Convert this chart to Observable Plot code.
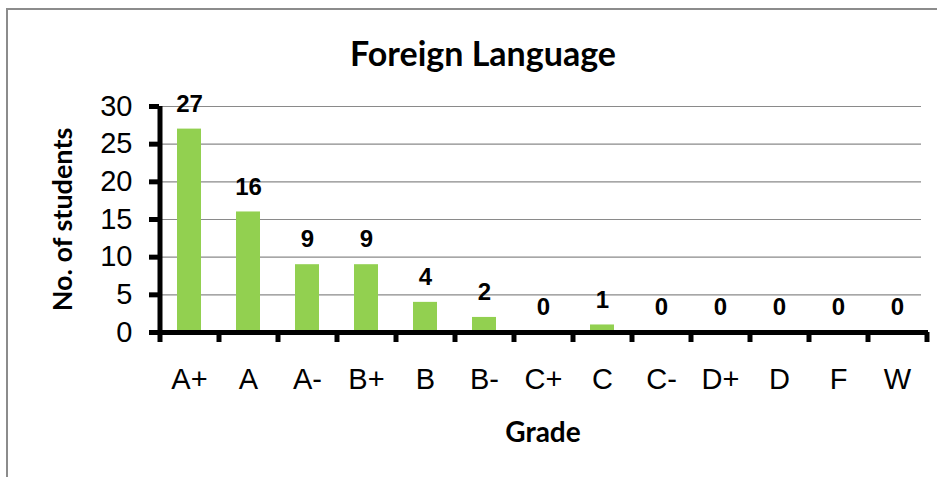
<!DOCTYPE html>
<html>
<head>
<meta charset="utf-8">
<script src="https://cdn.jsdelivr.net/npm/d3@7"></script>
<script src="https://cdn.jsdelivr.net/npm/@observablehq/plot@0.6"></script>
<style>
  html, body { margin: 0; padding: 0; background: #fff; }
  #wrap { position: relative; width: 937px; height: 477px; overflow: hidden; }
  #border { position: absolute; left: 6px; top: 8px; width: 1000px; height: 600px;
            border-left: 2px solid #8c8c8c; border-top: 2px solid #8c8c8c; }
  #chart { position: absolute; left: 0; top: 0; }
</style>
</head>
<body>
<div id="wrap"><div id="border"></div><div id="chart"></div></div>
<script>
const grades = ["A+", "A", "A-", "B+", "B", "B-", "C+", "C", "C-", "D+", "D", "F", "W"];
const counts = [27, 16, 9, 9, 4, 2, 0, 1, 0, 0, 0, 0, 0];
const yTicks = [0, 5, 10, 15, 20, 25, 30];
const gridValues = [5, 10, 15, 20, 25, 30];
const title = "Foreign Language";
const xTitle = "Grade";
const yTitle = "No. of students";

const data = grades.map((g, i) => ({grade: g, count: counts[i]}));

const W = 937, H = 477, ML = 159, MR = 11, MT = 106, MB = 145;
const step = (W - ML - MR) / grades.length;
const sans = "'Liberation Sans', Arial, sans-serif";
const calib = "Lato, 'Open Sans', sans-serif";

const plot = Plot.plot({
  width: W, height: H,
  marginLeft: ML, marginRight: MR, marginTop: MT, marginBottom: MB,
  style: {fontFamily: sans, background: "transparent", overflow: "visible"},
  x: {domain: grades, paddingInner: 0.6, paddingOuter: 0.3},
  y: {domain: [0, 30]},
  marks: [
    Plot.ruleY(gridValues, {stroke: "#8a8a8a", strokeWidth: 1.2, insetRight: 5}),
    Plot.barY(data, {x: "grade", y: "count", fill: "#92d050"}),
    Plot.axisY({ticks: yTicks, tickSize: 10, tickPadding: 17, fontSize: 29, strokeWidth: 5, stroke: "#000", label: null, fill: "#000"}),
    Plot.axisX({tickSize: 0, tickPadding: 36, fontSize: 29, label: null, fill: "#000"}),
    Plot.ruleX([grades[0]], {dx: -step / 2, y1: 0, y2: 30, strokeWidth: 5, stroke: "#000", insetTop: -2}),
    Plot.ruleY([0], {strokeWidth: 5, stroke: "#000", insetLeft: -2, insetRight: -2}),
    Plot.ruleX(grades, {x: d => d, dx: -step / 2, y1: 0, y2: 0, insetBottom: -10, strokeWidth: 5, stroke: "#000"}),
    Plot.ruleX([grades[grades.length - 1]], {dx: step / 2, y1: 0, y2: 0, insetBottom: -10, strokeWidth: 5, stroke: "#000"}),
    Plot.text(data, {x: "grade", y: "count", text: d => String(d.count), dy: -25, fontSize: 24, fontWeight: "bold", fill: "#000", fontFamily: sans}),
    Plot.text([title], {frameAnchor: "top", lineAnchor: "middle", textAnchor: "middle", dx: -60, dy: -51, fontSize: 34, fontWeight: "bold", fill: "#000", fontFamily: calib}),
    Plot.text([xTitle], {frameAnchor: "bottom", lineAnchor: "middle", textAnchor: "middle", dy: 101, fontSize: 28, fontWeight: "bold", fill: "#000", fontFamily: calib}),
    Plot.text([yTitle], {frameAnchor: "left", lineAnchor: "middle", textAnchor: "middle", dx: -96, rotate: -90, fontSize: 27, fontWeight: "bold", fill: "#000", fontFamily: calib})
  ]
});
document.getElementById("chart").appendChild(plot);
</script>
</body>
</html>
